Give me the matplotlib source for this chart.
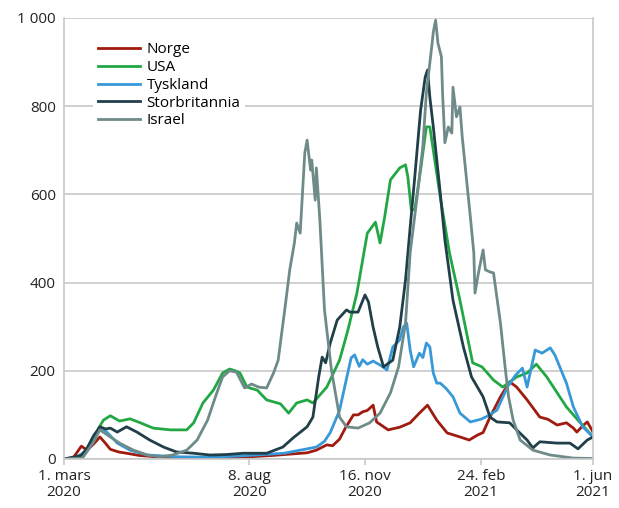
import numpy as np
import matplotlib
matplotlib.use('Agg')
import matplotlib.pyplot as plt

# x = dager etter 1. mars 2020
tick_days = [0, 160, 260, 360, 457]
tick_labels = ['1. mars\n2020', '8. aug\n2020', '16. nov\n2020', '24. feb\n2021', '1. jun\n2021']

norge_d = [0, 8, 15, 20, 26, 31, 36, 40, 47, 54, 65, 80, 100, 130, 160, 180, 200, 210, 218, 227,
           232, 238, 243, 250, 254, 258, 262, 267, 270, 275, 280, 290, 299, 307, 314, 318, 322,
           331, 342, 350, 357, 362, 368, 377, 385, 391, 400, 411, 418, 426, 434, 440, 443, 448, 452, 457]
norge_v = [0, 3, 29, 20, 35, 50, 35, 22, 16, 13, 8, 5, 3, 2, 5, 8, 12, 14, 20, 32,
           30, 45, 70, 100, 100, 107, 110, 122, 84, 75, 66, 72, 82, 104, 122, 105, 88,
           59, 50, 43, 54, 60, 95, 141, 175, 163, 134, 95, 90, 77, 82, 70, 61, 75, 84, 61]

usa_d = [0, 10, 18, 25, 30, 34, 40, 48, 57, 66, 77, 92, 106, 112, 120, 129, 137, 143, 148, 152,
         158, 167, 175, 187, 194, 201, 210, 215, 227, 238, 245, 253, 262, 269, 273, 277, 282, 290,
         295, 297, 300, 303, 308, 313, 316, 319, 325, 333, 342, 353, 361, 371, 379, 391, 400, 408,
         417, 426, 434, 446, 457]
usa_v = [0, 2, 15, 43, 70, 88, 98, 86, 91, 82, 70, 66, 66, 82, 127, 156, 195, 204, 200, 195,
         163, 156, 134, 125, 104, 127, 134, 127, 163, 224, 290, 376, 512, 537, 490, 549, 633, 660,
         667, 640, 565, 565, 655, 753, 753, 700, 594, 467, 360, 218, 209, 179, 163, 186, 195, 215,
         186, 150, 118, 82, 50]

tysk_d = [0, 10, 20, 26, 31, 37, 46, 57, 72, 97, 130, 160, 190, 204, 218, 225, 230, 238, 243, 248,
          251, 255, 258, 262, 267, 273, 279, 284, 290, 293, 296, 299, 302, 307, 310, 313, 316, 319,
          322, 325, 330, 336, 342, 351, 360, 368, 374, 383, 390, 396, 400, 407, 413, 420, 424, 434,
          440, 448, 457]
tysk_v = [0, 2, 20, 55, 70, 61, 36, 20, 9, 5, 4, 8, 13, 20, 27, 40, 60, 110, 170, 229,
          236, 210, 225, 215, 222, 213, 202, 254, 270, 299, 308, 247, 209, 240, 230, 263, 254, 195,
          172, 172, 160, 141, 104, 84, 90, 100, 111, 163, 190, 206, 163, 247, 240, 252, 236, 172,
          118, 73, 50]

uk_d = [0, 15, 20, 25, 31, 36, 40, 46, 54, 63, 74, 86, 97, 112, 126, 140, 155, 175, 189, 198,
        210, 215, 220, 223, 226, 230, 236, 244, 247, 254, 260, 263, 267, 271, 276, 284, 290, 295,
        299, 303, 308, 312, 314, 316, 319, 325, 329, 336, 345, 352, 362, 368, 374, 385, 391, 400,
        405, 411, 426, 437, 444, 452, 457]
uk_v = [0, 8, 25, 50, 73, 68, 70, 61, 73, 61, 43, 27, 16, 13, 9, 10, 13, 13, 27, 48,
        73, 95, 186, 231, 218, 263, 315, 338, 333, 333, 372, 356, 299, 254, 209, 224, 299, 406,
        525, 640, 790, 866, 882, 821, 753, 603, 497, 360, 254, 186, 141, 95, 84, 82, 66, 43,
        25, 39, 36, 36, 23, 43, 50]

israel_d = [0, 16, 25, 31, 40, 48, 60, 72, 83, 94, 106, 115, 124, 132, 137, 143, 149, 156, 162, 168,
            175, 181, 185, 191, 195, 199, 201, 204, 208, 210, 213, 214, 217, 218, 221, 225, 231, 238,
            244, 254, 264, 273, 282, 289, 295, 299, 305, 310, 313, 318, 319, 321, 323, 326, 327, 329,
            332, 335, 336, 339, 342, 344, 348, 351, 354, 355, 358, 362, 364, 368, 371, 377, 381, 384,
            388, 394, 405, 420, 440, 457]
israel_v = [0, 2, 36, 66, 50, 36, 20, 9, 5, 9, 20, 43, 88, 150, 186, 200, 197, 161, 170, 163,
            161, 195, 224, 345, 429, 490, 535, 512, 694, 723, 655, 678, 587, 660, 542, 338, 202, 95,
            73, 70, 82, 104, 150, 209, 308, 467, 594, 710, 830, 943, 968, 995, 943, 912, 830, 717,
            753, 739, 843, 776, 798, 730, 626, 549, 467, 376, 422, 474, 429, 424, 422, 308, 209, 141,
            88, 43, 20, 9, 2, 1]

series = [
    ('Norge', norge_d, norge_v, '#a01b0f'),
    ('USA', usa_d, usa_v, '#22a744'),
    ('Tyskland', tysk_d, tysk_v, '#3799d8'),
    ('Storbritannia', uk_d, uk_v, '#203f48'),
    ('Israel', israel_d, israel_v, '#6e8b8a'),
]

plt.rcParams['font.family'] = ['Open Sans', 'DejaVu Sans']
grid_c = '#c8c8c8'

fig = plt.figure(figsize=(6.19, 5.08), dpi=100)
ax = fig.add_axes([0.1034, 0.0965, 0.8547, 0.8681])

for name, d, v, c in series:
    ax.plot(d, v, color=c, lw=2.0, label=name, solid_joinstyle='round')

ax.set_xlim(0, 457)
ax.set_ylim(0, 1000)
ax.set_yticks(np.arange(0, 1001, 200))
ax.set_yticklabels(['0', '200', '400', '600', '800', '1 000'])
ax.set_xticks(tick_days)
ax.set_xticklabels(tick_labels, linespacing=1.15)
ax.grid(axis='y', color=grid_c, lw=1.2)
ax.set_axisbelow(True)
for s in ['left', 'right', 'bottom']:
    ax.spines[s].set_color(grid_c)
    ax.spines[s].set_linewidth(1.2)
ax.spines['top'].set_visible(False)
ax.tick_params(axis='y', length=0, pad=6, labelsize=11, labelcolor='#222222')
ax.tick_params(axis='x', length=4, width=1.2, color=grid_c, pad=3, labelsize=11,
               labelcolor='#222222')

leg = ax.legend(loc='upper left', bbox_to_anchor=(0.055, 0.955), frameon=True,
                fancybox=False, edgecolor='none', facecolor='white', framealpha=1,
                handlelength=2.8, handletextpad=0.4, labelspacing=0.18, borderpad=0.3,
                borderaxespad=0, fontsize=11)

fig.savefig('out.png', dpi=100)
